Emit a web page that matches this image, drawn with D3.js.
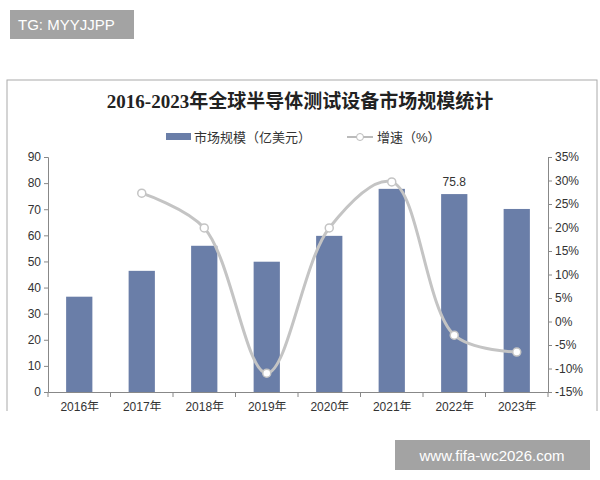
<!DOCTYPE html><html><head><meta charset="utf-8">
<script src="https://cdn.jsdelivr.net/npm/d3@7"></script>
<style>body{margin:0;background:#fff}</style></head><body>
<svg id="c" width="600" height="480"></svg>
<script>
const years=["2016年","2017年","2018年","2019年","2020年","2021年","2022年","2023年"];
const market=[36.5,46.4,56,49.9,59.8,77.8,75.8,70.1];
const growth=[null,27.3,19.9,-11,19.9,29.7,-2.9,-6.5];
const leftTicks=[0,10,20,30,40,50,60,70,80,90];
const rightTicks=[-15,-10,-5,0,5,10,15,20,25,30,35];
const svg=d3.select("#c");
const F="'Liberation Sans',Arial,sans-serif";
const defs=svg.append("defs");
defs.append("clipPath").attr("id","clip").append("rect").attr("x",0).attr("y",0).attr("width",600).attr("height",411);
const g=svg.append("g").attr("clip-path","url(#clip)");
g.append("rect").attr("x",7).attr("y",80).attr("width",590).attr("height",340).attr("fill","#fff").attr("stroke","#aaa");
const x=d3.scaleBand().domain(years).range([48,548]).paddingInner(0.58).paddingOuter(0.29);
const xp=d3.scalePoint().domain(years).range([48,548]).padding(0.5);
const y=d3.scaleLinear().domain([0,90]).range([392,157]);
const y2=d3.scaleLinear().domain([-15,35]).range([392,157]);
g.append("text").attr("x",300).attr("y",108).attr("text-anchor","middle").attr("font-family","'Liberation Serif','Noto Sans CJK SC',serif").attr("font-weight","bold").attr("font-size",19).attr("fill","#222").text("2016-2023年全球半导体测试设备市场规模统计");
const lg=g.append("g").attr("font-family",F+",'Noto Sans CJK SC'").attr("font-size",13).attr("fill","#333");
lg.append("rect").attr("x",166).attr("y",133).attr("width",25).attr("height",7).attr("fill","#6a7ea8");
lg.append("text").attr("x",194).attr("y",142).text("市场规模（亿美元）");
lg.append("line").attr("x1",347).attr("x2",373).attr("y1",137).attr("y2",137).attr("stroke","#bbb").attr("stroke-width",2);
lg.append("circle").attr("cx",360).attr("cy",137).attr("r",3.5).attr("fill","#fff").attr("stroke","#bbb");
lg.append("text").attr("x",377).attr("y",142).text("增速（%）");
const ax=g.append("g").attr("transform","translate(48,0)").call(d3.axisLeft(y).tickValues(leftTicks).tickSize(4));
const ax2=g.append("g").attr("transform","translate(548,0)").call(d3.axisRight(y2).tickValues(rightTicks).tickSize(4).tickFormat(d=>d+"%"));
const axb=g.append("g").attr("transform","translate(0,392)").call(d3.axisBottom(xp).tickSize(0).tickPadding(10));
[ax,ax2,axb].forEach(a=>{a.selectAll("path,line").attr("stroke","#888");a.selectAll("text").attr("font-family",F+",'Noto Sans CJK SC'").attr("font-size",12).attr("fill","#333");});
g.selectAll(".sep").data(d3.range(9)).join("line").attr("x1",i=>48+i*62.5).attr("x2",i=>48+i*62.5).attr("y1",392).attr("y2",397).attr("stroke","#888");
g.selectAll(".bar").data(market).join("rect").attr("x",(d,i)=>x(years[i])).attr("width",x.bandwidth()).attr("y",d=>y(d)).attr("height",d=>392-y(d)).attr("fill","#6a7ea8");
g.append("text").attr("x",xp(years[6])).attr("y",y(market[6])-8).attr("text-anchor","middle").attr("font-family",F).attr("font-size",12).attr("fill","#333").text(market[6]);
const pts=growth.map((v,i)=>[xp(years[i]),v]).filter(p=>p[1]!==null);
g.append("path").attr("d",d3.line().x(p=>p[0]).y(p=>y2(p[1])).curve(d3.curveCatmullRom.alpha(0.5))(pts)).attr("fill","none").attr("stroke","#c4c4c4").attr("stroke-width",3);
g.selectAll(".pt").data(pts).join("circle").attr("cx",p=>p[0]).attr("cy",p=>y2(p[1])).attr("r",4).attr("fill","#fff").attr("stroke","#c4c4c4").attr("stroke-width",1.5);
svg.append("rect").attr("x",10).attr("y",10).attr("width",124).attr("height",29).attr("fill","#a3a3a3");
svg.append("text").attr("x",18).attr("y",30).attr("font-family",F).attr("font-size",15).attr("fill","#fff").text("TG: MYYJJPP");
svg.append("rect").attr("x",395).attr("y",440).attr("width",195).attr("height",30).attr("fill","#a3a3a3");
svg.append("text").attr("x",492).attr("y",461).attr("text-anchor","middle").attr("font-family",F).attr("font-size",15).attr("fill","#fff").text("www.fifa-wc2026.com");
</script></body></html>
